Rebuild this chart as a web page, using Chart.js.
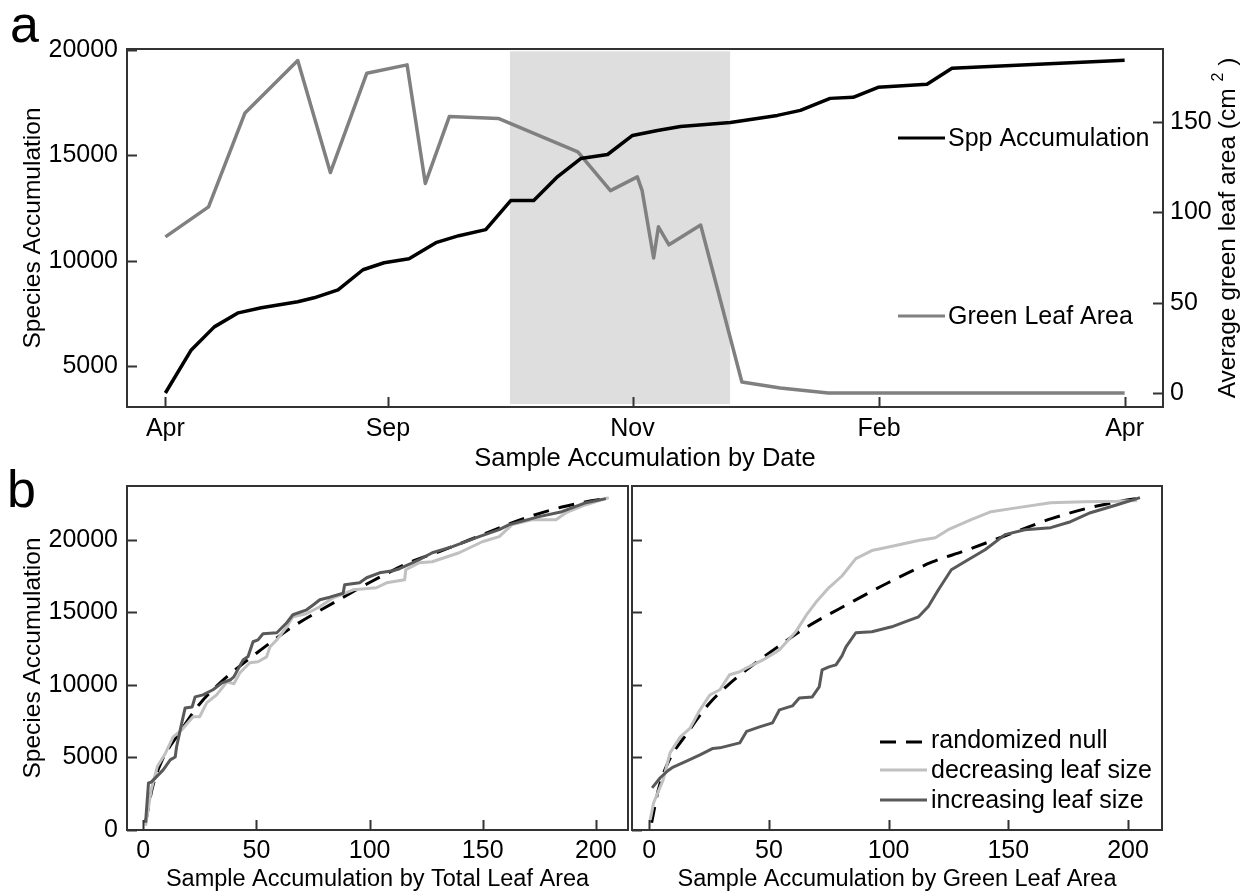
<!DOCTYPE html>
<html>
<head>
<meta charset="utf-8">
<title>Species accumulation by date and by leaf area</title>
<script src="https://cdn.jsdelivr.net/npm/chart.js@4.4.1/dist/chart.umd.min.js"></script>
<style>
  html, body { margin: 0; padding: 0; background: #fff; }
  #wrap { position: relative; width: 1247px; height: 896px; overflow: hidden; background: #fff; }
  #wrap canvas { position: absolute; left: 0; top: 0; }
</style>
</head>
<body>
<div id="wrap">
  <canvas id="panelA" width="1247" height="896"></canvas>
  <canvas id="panelB1" width="1247" height="896"></canvas>
  <canvas id="panelB2" width="1247" height="896"></canvas>
</div>
<script>
// ---------- Panel a: accumulation through the sampling year ----------
// x = position along the sampling sequence (0 = first sample, 100 = last)
const dateTickPos    = [0, 23.2, 48.7, 74.4, 100];
const dateTickLabels = ['Apr', 'Sep', 'Nov', 'Feb', 'Apr'];
const sppTicks  = [5000, 10000, 15000, 20000];
const leafTicks = [0, 50, 100, 150];

const sppPos   = [0, 2.7, 5.1, 7.6, 10.0, 13.8, 15.5, 18.0, 20.6, 22.8, 25.4, 28.2, 30.6, 33.4,
                  36.0, 38.4, 40.9, 43.3, 46.1, 48.7, 51.3, 53.7, 58.9, 63.8, 66.2, 69.3,
                  71.7, 74.3, 79.4, 82.0, 100];
const sppAccum = [3714, 5762, 6857, 7524, 7762, 8048, 8238, 8619, 9571, 9905, 10095, 10857, 11190, 11476,
                  12857, 12857, 14000, 14857, 15048, 15952, 16190, 16381, 16571, 16905, 17143, 17714,
                  17762, 18238, 18381, 19143, 19524];

const leafPos       = [0, 4.5, 8.3, 13.8, 17.2, 21.0, 25.2, 27.1, 29.6, 34.7, 43.0, 46.4, 49.2, 49.7,
                       50.9, 51.4, 52.5, 55.8, 60.1, 64.1, 69.1, 100];
const greenLeafArea = [86.4, 103, 155, 184, 122, 177, 181.6, 116, 153, 152, 133.4, 112, 119.6, 112,
                       74.7, 92, 82, 93, 6.1, 2.8, 0, 0];

// shaded leaf-fall period (x range, species-axis range)
const shadeRange = [35.9, 58.9];
const shadeSpan  = [3190, 19950];

// ---------- Panel b: accumulation ordered by leaf area ----------
const sampleTicks = [0, 50, 100, 150, 200];
const accTicks    = [0, 5000, 10000, 15000, 20000];

const nullX = [1, 4, 8, 16, 25, 33, 38, 51, 66, 84, 100, 118, 132, 150, 168, 185, 198, 206];
const nullY = [500, 2900, 4700, 6700, 8700, 10000, 10700, 12300, 14000, 15650, 17050, 18450,
               19250, 20350, 21450, 22250, 22680, 22880];

// ordered by total leaf area
const totDecX = [1, 3.5, 6.2, 9.8, 13.2, 17, 22, 24.9, 28, 32.4, 37, 40, 42.7, 47.1, 50.7, 54.5, 56,
                 59, 63.4, 66.1, 72, 78, 83.9, 92.8, 103, 107.5, 115.5, 116, 122, 127.7, 139.6, 149.8,
                 157.3, 163, 171.8, 182.4, 186.8, 195.6, 205.7];
const totDecY = [300, 2760, 4370, 5290, 6410, 6900, 7800, 7800, 8760, 9310, 10210, 10070, 10830,
                 11520, 11590, 11930, 12620, 13100, 14000, 14690, 14900, 15380, 16000, 16550, 16690,
                 17030, 17240, 17930, 18410, 18480, 19100, 19860, 20210, 21040, 21380, 21380, 21860,
                 22410, 22900];
const totIncX = [1, 2.3, 3.5, 8.8, 11.9, 14.1, 14.7, 17.0, 18.5, 21.6, 22.9, 26.4, 30.8, 34.8, 38.5,
                 40, 44.1, 46.3, 48.5, 50.7, 52.9, 59.0, 63.4, 66.1, 72.2, 75.2, 78.0, 82.4, 88.3, 89.0,
                 95.6, 98.7, 104.4, 110.3, 113.2, 118.9, 121.9, 127.7, 136.6, 148.4, 157.3, 161.7,
                 174.9, 185, 195.6, 204.4];
const totIncY = [500, 3240, 3300, 4140, 4830, 5030, 5720, 7380, 8410, 8480, 9170, 9310, 9660, 10140,
                 10350, 10550, 11720, 11950, 12970, 13100, 13520, 13590, 14280, 14830, 15170, 15520,
                 15860, 16040, 16310, 16900, 17030, 17380, 17720, 17860, 18000, 18410, 18620, 19100,
                 19520, 20210, 20690, 21040, 21590, 21930, 22550, 22830];

// ordered by green leaf area
const grnDecX = [0.4, 1.8, 5.8, 8.7, 12.9, 17, 21.2, 25.3, 29.5, 33.6, 37.8, 40.7, 47.3, 54.4, 61.4,
                 65.6, 69.7, 75.1, 80.5, 86.3, 93, 102.9, 112.5, 119.5, 124.9, 134.5, 142.8, 154,
                 167.7, 181.8, 195.5, 203.8];
const grnDecY = [690, 1860, 3450, 5310, 6400, 7000, 8280, 9300, 9660, 10700, 10900, 11170, 11700,
                 12410, 13700, 14800, 15700, 16700, 17500, 18700, 19250, 19600, 19950, 20140, 20690,
                 21380, 21930, 22210, 22550, 22620, 22650, 22700];
const grnIncX = [1.2, 4.6, 7.9, 10, 15.8, 21.2, 26.6, 29.5, 37.8, 40.7, 46.1, 51.5, 54.4, 59.8, 62.7,
                 68.1, 71, 72.2, 75.1, 78, 80.5, 82.2, 86.3, 93, 101.3, 107.1, 112.5, 116.6, 120.8,
                 126.2, 133.2, 140.3, 148.6, 156.9, 167.7, 176, 184.3, 195.5, 205];
const grnIncY = [2900, 3600, 4100, 4340, 4760, 5170, 5620, 5660, 6000, 6800, 7100, 7380, 8280, 8550,
                 9100, 9170, 9860, 11030, 11240, 11380, 12000, 12620, 13590, 13660, 14000, 14350,
                 14690, 15400, 16550, 17930, 18620, 19310, 20350, 20690, 20830, 21240, 21860, 22410,
                 22900];

// ---------- shared styling ----------
const FONT = '"Liberation Sans", Arial, Helvetica, sans-serif';
Chart.defaults.font.family = FONT;
Chart.defaults.font.size = 25;
Chart.defaults.color = '#000';

const INK = '#333';
const LIGHT = '#c0c0c0';
const DARK = '#595959';
const MID = '#808080';

const pairs = (xs, ys) => xs.map((x, i) => ({ x, y: ys[i] }));
const fixedTicks = values => scale => { scale.ticks = values.map(v => ({ value: v })); };
const noGrid = { display: false, drawTicks: false };
const noBorder = { display: false };

// Frame, inward tick marks, legend and extra labels
const framePlugin = {
  id: 'frame',
  afterDraw(chart, args, opts) {
    const { ctx, chartArea: a } = chart;
    ctx.save();
    ctx.strokeStyle = INK;
    ctx.lineWidth = 2;
    ctx.lineCap = 'butt';
    ctx.strokeRect(a.left, a.top, a.right - a.left, a.bottom - a.top);
    const len = 10;
    Object.values(chart.scales).forEach(s => {
      s.ticks.forEach(t => {
        const p = Math.round(s.getPixelForValue(t.value)) + 0.5;
        ctx.beginPath();
        if (s.axis === 'x') { ctx.moveTo(p, a.bottom); ctx.lineTo(p, a.bottom - len); }
        else if (s.position === 'left') { ctx.moveTo(a.left, p); ctx.lineTo(a.left + len, p); }
        else { ctx.moveTo(a.right, p); ctx.lineTo(a.right - len, p); }
        ctx.stroke();
      });
    });

    if (opts.legend) {
      const L = opts.legend;
      L.items.forEach(it => {
        ctx.save();
        ctx.strokeStyle = it.color;
        ctx.lineWidth = 3;
        ctx.setLineDash(it.dash || []);
        ctx.beginPath();
        ctx.moveTo(L.x0, it.lineY);
        ctx.lineTo(L.x1, it.lineY);
        ctx.stroke();
        ctx.restore();
        ctx.fillStyle = '#000';
        ctx.font = L.size + 'px ' + FONT;
        ctx.textAlign = 'left';
        ctx.textBaseline = 'middle';
        ctx.fillText(it.label, L.textX, it.textY);
      });
    }

    if (opts.tag) {
      ctx.fillStyle = '#000';
      ctx.font = '52px ' + FONT;
      ctx.textAlign = 'left';
      ctx.textBaseline = 'alphabetic';
      ctx.fillText(opts.tag.text, opts.tag.x, opts.tag.y);
    }

    if (opts.sideTitle) {
      const T = opts.sideTitle;
      ctx.translate(T.x, T.y);
      ctx.rotate(-Math.PI / 2);
      ctx.fillStyle = '#000';
      ctx.textAlign = 'left';
      ctx.textBaseline = 'alphabetic';
      ctx.font = '24.5px ' + FONT;
      const w1 = ctx.measureText(T.main).width;
      const w3 = ctx.measureText(T.tail).width;
      ctx.font = '16px ' + FONT;
      const w2 = ctx.measureText(T.sup).width;
      const start = -(w1 + w2 + w3) / 2;
      ctx.font = '24.5px ' + FONT;
      ctx.fillText(T.main, start, 0);
      ctx.font = '16px ' + FONT;
      ctx.fillText(T.sup, start + w1, -12);
      ctx.font = '24.5px ' + FONT;
      ctx.fillText(T.tail, start + w1 + w2, 0);
    }
    ctx.restore();
  }
};

const baseOptions = {
  responsive: false,
  animation: false,
  devicePixelRatio: 1,
  events: [],
  plugins: { legend: { display: false }, tooltip: { enabled: false } }
};

// ---------- Panel a ----------
new Chart(document.getElementById('panelA'), {
  type: 'line',
  data: {
    datasets: [
      {
        label: 'leaf fall',
        data: pairs(shadeRange, [shadeSpan[1], shadeSpan[1]]),
        yAxisID: 'y',
        fill: { value: shadeSpan[0] },
        backgroundColor: '#dedede',
        borderWidth: 0,
        pointRadius: 0,
        order: 3
      },
      {
        label: 'Green Leaf Area',
        data: pairs(leafPos, greenLeafArea),
        yAxisID: 'y2',
        borderColor: MID,
        borderWidth: 3.5,
        borderJoinStyle: 'round',
        pointRadius: 0,
        fill: false,
        order: 2
      },
      {
        label: 'Spp Accumulation',
        data: pairs(sppPos, sppAccum),
        yAxisID: 'y',
        borderColor: '#000',
        borderWidth: 3.5,
        borderJoinStyle: 'round',
        pointRadius: 0,
        fill: false,
        order: 1
      }
    ]
  },
  options: {
    ...baseOptions,
    layout: { padding: { left: 10, top: 49, right: 0, bottom: 419 } },
    scales: {
      x: {
        type: 'linear', min: -4, max: 104,
        afterBuildTicks: fixedTicks(dateTickPos),
        afterFit: s => { s.height = 70; },
        grid: noGrid, border: noBorder,
        ticks: { callback: (v, i) => dateTickLabels[i], padding: 7.5, autoSkip: false, maxRotation: 0 },
        title: { display: true, text: 'Sample Accumulation by Date', font: { size: 25.5 },
                 padding: { top: 0, bottom: 3 } }
      },
      y: {
        position: 'left', min: 3050, max: 20060,
        afterBuildTicks: fixedTicks(sppTicks),
        afterFit: s => { s.width = 117; },
        grid: noGrid, border: noBorder,
        ticks: { callback: v => String(v), padding: 9 },
        title: { display: true, text: 'Species Accumulation', font: { size: 24.5 },
                 padding: { top: 8.3, bottom: 0 } }
      },
      y2: {
        position: 'right', min: -7.75, max: 190.4,
        afterBuildTicks: fixedTicks(leafTicks),
        afterFit: s => { s.width = 84; },
        grid: noGrid, border: noBorder,
        ticks: { callback: v => String(v), padding: 7 }
      }
    },
    plugins: {
      ...baseOptions.plugins,
      frame: {
        tag: { text: 'a', x: 10, y: 42 },
        legend: {
          x0: 898, x1: 945, textX: 948, size: 25,
          items: [
            { label: 'Spp Accumulation', color: '#000', lineY: 138, textY: 139 },
            { label: 'Green Leaf Area', color: MID, lineY: 316, textY: 317 }
          ]
        },
        sideTitle: { x: 1235, y: 228, main: 'Average green leaf area (cm ', sup: '2', tail: ' )' }
      }
    }
  },
  plugins: [framePlugin]
});

// ---------- Panel b ----------
function accumulationLines(decX, decY, incX, incY) {
  return [
    {
      label: 'randomized null',
      data: pairs(nullX, nullY),
      borderColor: '#000', borderWidth: 3, borderDash: [16, 10],
      cubicInterpolationMode: 'monotone', pointRadius: 0, fill: false, order: 3
    },
    {
      label: 'decreasing leaf size',
      data: pairs(decX, decY),
      borderColor: LIGHT, borderWidth: 3, borderJoinStyle: 'round',
      pointRadius: 0, fill: false, order: 2
    },
    {
      label: 'increasing leaf size',
      data: pairs(incX, incY),
      borderColor: DARK, borderWidth: 3, borderJoinStyle: 'round',
      pointRadius: 0, fill: false, order: 1
    }
  ];
}

function sampleAxis(title) {
  return {
    type: 'linear', min: -7.2, max: 214.2,
    afterBuildTicks: fixedTicks(sampleTicks),
    afterFit: s => { s.height = 66; },
    grid: noGrid, border: noBorder,
    ticks: { callback: v => String(v), padding: 6.6, autoSkip: false, maxRotation: 0 },
    title: { display: true, text: title, font: { size: 23.5 }, padding: { top: 0, bottom: 2.3 } }
  };
}

new Chart(document.getElementById('panelB1'), {
  type: 'line',
  data: { datasets: accumulationLines(totDecX, totDecY, totIncX, totIncY) },
  options: {
    ...baseOptions,
    layout: { padding: { left: 10, top: 486, right: 619, bottom: 0 } },
    scales: {
      x: sampleAxis('Sample Accumulation by Total Leaf Area'),
      y: {
        position: 'left', min: 0, max: 23700,
        afterBuildTicks: fixedTicks(accTicks),
        afterFit: s => { s.width = 117; },
        grid: noGrid, border: noBorder,
        ticks: { callback: v => String(v), padding: 9 },
        title: { display: true, text: 'Species Accumulation', font: { size: 24.5 },
                 padding: { top: 8.3, bottom: 0 } }
      }
    },
    plugins: {
      ...baseOptions.plugins,
      frame: { tag: { text: 'b', x: 7, y: 507 } }
    }
  },
  plugins: [framePlugin]
});

new Chart(document.getElementById('panelB2'), {
  type: 'line',
  data: { datasets: accumulationLines(grnDecX, grnDecY, grnIncX, grnIncY) },
  options: {
    ...baseOptions,
    layout: { padding: { left: 632, top: 486, right: 85, bottom: 0 } },
    scales: {
      x: sampleAxis('Sample Accumulation by Green Leaf Area'),
      y: {
        position: 'left', min: 0, max: 23700,
        afterBuildTicks: fixedTicks(accTicks),
        afterFit: s => { s.width = 0; },
        grid: noGrid, border: noBorder,
        ticks: { display: false }
      }
    },
    plugins: {
      ...baseOptions.plugins,
      frame: {
        legend: {
          x0: 880, x1: 927, textX: 931, size: 25,
          items: [
            { label: 'randomized null', color: '#000', dash: [16, 10], lineY: 742, textY: 741 },
            { label: 'decreasing leaf size', color: LIGHT, lineY: 770, textY: 771 },
            { label: 'increasing leaf size', color: DARK, lineY: 800, textY: 801 }
          ]
        }
      }
    }
  },
  plugins: [framePlugin]
});
</script>
</body>
</html>
